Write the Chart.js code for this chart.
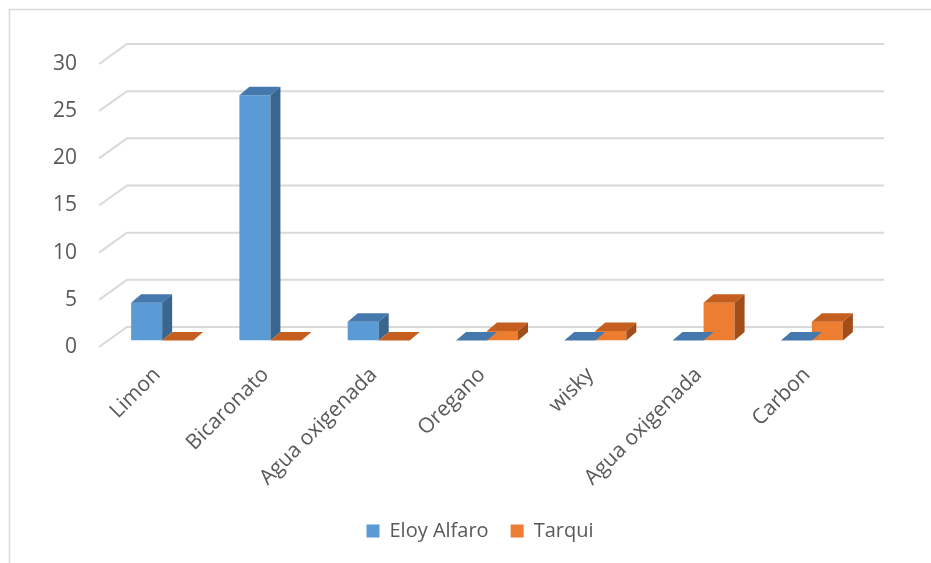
<!DOCTYPE html>
<html lang="es">
<head>
    <meta charset="UTF-8">
    <title>Eloy Alfaro vs Tarqui</title>
    <script src="https://cdn.jsdelivr.net/npm/chart.js"></script>
    <style>
        body {
            margin: 0;
            background: #ffffff;
        }
        .chart-container {
            position: relative;
            width: 931px;
            height: 563px;
        }
    </style>
</head>
<body>
    <div class="chart-container">
        <canvas id="barChart"></canvas>
    </div>

    <script>
        // Data
        const categories = ['Limon', 'Bicaronato', 'Agua oxigenada', 'Oregano', 'wisky', 'Agua oxigenada', 'Carbon'];
        const eloyAlfaro = [4, 26, 2, 0, 0, 0, 0];
        const tarqui = [0, 0, 0, 1, 1, 4, 2];
        const yTicks = [0, 5, 10, 15, 20, 25, 30];

        const textColor = '#595959';
        const fontFamily = '"Open Sans", sans-serif';

        // darker shades for the top and side faces
        const shades = {
            '#5b9bd5': { top: '#4578ad', side: '#3a658e' },
            '#ed7d31': { top: '#c55f1f', side: '#a24e1b' }
        };

        // 3D look: back wall, floor lines and bar depth
        const depth = { dx: 10, dy: -8.5 };
        const wall = { frontX: 99, backX: 127, right: 884, frontDy: 6.5, backDy: -13.5 };

        const threeD = {
            id: 'threeD',
            beforeDatasetsDraw(chart) {
                const ctx = chart.ctx;
                const y = chart.scales.y;
                ctx.save();
                // chart frame
                ctx.strokeStyle = '#d9d9d9';
                ctx.lineWidth = 1.5;
                ctx.strokeRect(9.5, 9.5, 1000, 1000);
                // back wall grid
                ctx.lineWidth = 2;
                yTicks.forEach(v => {
                    const p = y.getPixelForValue(v);
                    ctx.beginPath();
                    ctx.moveTo(wall.frontX, p + wall.frontDy);
                    ctx.lineTo(wall.backX, p + wall.backDy);
                    ctx.lineTo(wall.right, p + wall.backDy);
                    ctx.stroke();
                });
                ctx.restore();
            },
            afterDatasetsDraw(chart) {
                const ctx = chart.ctx;
                ctx.save();
                chart.data.datasets.forEach((ds, di) => {
                    const meta = chart.getDatasetMeta(di);
                    const sh = shades[ds.backgroundColor];
                    meta.data.forEach(bar => {
                        const left = bar.x - bar.width / 2;
                        const right = bar.x + bar.width / 2;
                        const top = bar.y;
                        const base = bar.base;
                        // top face
                        ctx.fillStyle = sh.top;
                        ctx.beginPath();
                        ctx.moveTo(left, top);
                        ctx.lineTo(left + depth.dx, top + depth.dy);
                        ctx.lineTo(right + depth.dx, top + depth.dy);
                        ctx.lineTo(right, top);
                        ctx.closePath();
                        ctx.fill();
                        // side face
                        if (base - top > 0.5) {
                            ctx.fillStyle = sh.side;
                            ctx.beginPath();
                            ctx.moveTo(right, top);
                            ctx.lineTo(right + depth.dx, top + depth.dy);
                            ctx.lineTo(right + depth.dx, base + depth.dy);
                            ctx.lineTo(right, base);
                            ctx.closePath();
                            ctx.fill();
                        }
                    });
                });
                ctx.restore();
            }
        };

        const ctx = document.getElementById('barChart').getContext('2d');
        new Chart(ctx, {
            type: 'bar',
            data: {
                labels: categories,
                datasets: [
                    {
                        label: 'Eloy Alfaro',
                        data: eloyAlfaro,
                        backgroundColor: '#5b9bd5',
                        borderWidth: 0
                    },
                    {
                        label: 'Tarqui',
                        data: tarqui,
                        backgroundColor: '#ed7d31',
                        borderWidth: 0
                    }
                ]
            },
            options: {
                responsive: true,
                maintainAspectRatio: false,
                animation: false,
                categoryPercentage: 0.573,
                barPercentage: 1,
                layout: {
                    padding: { left: 29, right: 0, top: 57.5, bottom: 12 }
                },
                scales: {
                    x: {
                        grid: { display: false },
                        border: { display: false },
                        ticks: {
                            color: textColor,
                            font: { family: fontFamily, size: 21 },
                            minRotation: 45,
                            maxRotation: 45,
                            autoSkip: false,
                            labelOffset: -5,
                            padding: 14
                        },
                        afterFit(scale) {
                            scale.height = 158.5;
                        }
                    },
                    y: {
                        min: 0,
                        max: 30,
                        grid: { display: false, drawTicks: false },
                        border: { display: false },
                        ticks: {
                            stepSize: 5,
                            color: textColor,
                            font: { family: fontFamily, size: 21 },
                            padding: 31,
                            labelOffset: 6.5
                        },
                        afterFit(scale) {
                            scale.width = 79;
                        }
                    },
                    // empty right margin, keeps the legend centred like the original
                    y2: {
                        position: 'right',
                        grid: { display: false },
                        border: { display: false },
                        ticks: { display: false },
                        afterFit(scale) {
                            scale.width = 65;
                        }
                    }
                },
                plugins: {
                    legend: {
                        position: 'bottom',
                        labels: {
                            color: textColor,
                            font: { family: fontFamily, size: 20 },
                            boxWidth: 13,
                            boxHeight: 13,
                            padding: 22
                        }
                    },
                    tooltip: { enabled: false }
                }
            },
            plugins: [threeD]
        });
    </script>
</body>
</html>
